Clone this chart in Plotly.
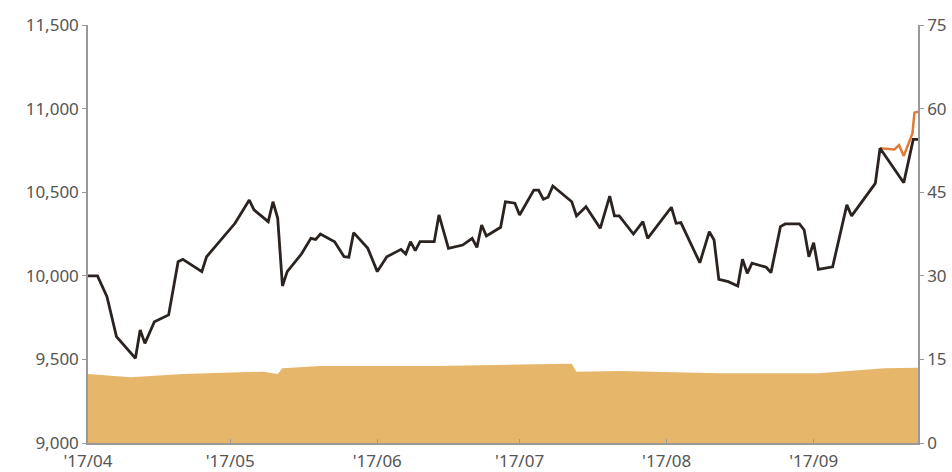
import plotly.graph_objects as go

# Index line (left axis)
line_dates = [
    "2017-04-01", "2017-04-03", "2017-04-05", "2017-04-07", "2017-04-11", "2017-04-12",
    "2017-04-13", "2017-04-15", "2017-04-18", "2017-04-20", "2017-04-21", "2017-04-25",
    "2017-04-26", "2017-05-02", "2017-05-05", "2017-05-06", "2017-05-09", "2017-05-10",
    "2017-05-11", "2017-05-12", "2017-05-13", "2017-05-16", "2017-05-18", "2017-05-19",
    "2017-05-20", "2017-05-23", "2017-05-25", "2017-05-26", "2017-05-27", "2017-05-30",
    "2017-06-01", "2017-06-03", "2017-06-06", "2017-06-07", "2017-06-08", "2017-06-09",
    "2017-06-10", "2017-06-13", "2017-06-14", "2017-06-16", "2017-06-19", "2017-06-21",
    "2017-06-22", "2017-06-23", "2017-06-24", "2017-06-27", "2017-06-28", "2017-06-30",
    "2017-07-01", "2017-07-04", "2017-07-05", "2017-07-06", "2017-07-07", "2017-07-08",
    "2017-07-12", "2017-07-13", "2017-07-15", "2017-07-18", "2017-07-20", "2017-07-21",
    "2017-07-22", "2017-07-25", "2017-07-27", "2017-07-28", "2017-08-02", "2017-08-03",
    "2017-08-04", "2017-08-08", "2017-08-10", "2017-08-11", "2017-08-12", "2017-08-14",
    "2017-08-16", "2017-08-17", "2017-08-18", "2017-08-19", "2017-08-22", "2017-08-23",
    "2017-08-25", "2017-08-26", "2017-08-29", "2017-08-30", "2017-08-31", "2017-09-01",
    "2017-09-02", "2017-09-05", "2017-09-08", "2017-09-09", "2017-09-14", "2017-09-15",
    "2017-09-20", "2017-09-22", "2017-09-23",
]
line_values = [
    10000, 10000, 9875, 9636, 9507, 9676,
    9596, 9725, 9766, 10084, 10099, 10025,
    10114, 10314, 10453, 10394, 10324, 10443,
    10344, 9939, 10025, 10130, 10224, 10218,
    10250, 10204, 10114, 10111, 10258, 10164,
    10025, 10114, 10158, 10130, 10204, 10150,
    10204, 10204, 10364, 10164, 10184, 10224,
    10170, 10304, 10238, 10290, 10443, 10434,
    10364, 10513, 10513, 10458, 10470, 10537,
    10443, 10358, 10413, 10284, 10477, 10358,
    10358, 10250, 10324, 10224, 10410, 10314,
    10318, 10078, 10264, 10214, 9979, 9965,
    9939, 10099, 10015, 10075, 10051, 10019,
    10294, 10310, 10310, 10274, 10114, 10198,
    10039, 10054, 10424, 10358, 10553, 10763,
    10557, 10816, 10816,
]

# Orange tail line (left axis)
tail_dates = ["2017-09-15", "2017-09-18", "2017-09-19", "2017-09-20",
              "2017-09-21 20:00", "2017-09-22 06:00", "2017-09-23"]
tail_values = [10763, 10755, 10782, 10717, 10852, 10976, 10982]

# Area series (right axis)
area_dates = ["2017-04-01", "2017-04-10", "2017-04-21", "2017-05-08", "2017-05-11",
              "2017-05-12", "2017-05-20", "2017-06-13", "2017-07-11", "2017-07-12",
              "2017-07-13", "2017-07-22", "2017-08-12", "2017-09-02", "2017-09-16",
              "2017-09-23"]
area_values = [12.4, 11.8, 12.4, 12.8, 12.4,
               13.4, 13.8, 13.8, 14.2, 14.2,
               12.8, 12.9, 12.5, 12.5, 13.4,
               13.5]

left_ticks = [9000, 9500, 10000, 10500, 11000, 11500]
right_ticks = [0, 15, 30, 45, 60, 75]
x_ticks = ["2017-04-01", "2017-05-01", "2017-06-01", "2017-07-01", "2017-08-01", "2017-09-01"]
x_labels = ["'17/04", "'17/05", "'17/06", "'17/07", "'17/08", "'17/09"]

fig = go.Figure()
fig.add_trace(go.Scatter(
    x=area_dates, y=area_values, yaxis="y2", mode="lines",
    line=dict(color="#E6B66B", width=0), fill="tozeroy", fillcolor="#E6B66B",
    hoverinfo="skip", showlegend=False,
))
fig.add_trace(go.Scatter(
    x=tail_dates, y=tail_values, mode="lines",
    line=dict(color="#E07A36", width=2.5), showlegend=False,
))
fig.add_trace(go.Scatter(
    x=line_dates, y=line_values, mode="lines",
    line=dict(color="#2A2320", width=2.8), showlegend=False,
))

tickfont = dict(family="Noto Sans, DejaVu Sans, sans-serif", size=17, color="#555555")

fig.update_layout(
    width=952, height=472,
    margin=dict(l=88, r=34, t=25, b=29),
    paper_bgcolor="white", plot_bgcolor="white",
    xaxis=dict(
        type="date", range=["2017-04-01", "2017-09-23"], automargin=False,
        tickmode="array", tickvals=x_ticks, ticktext=x_labels,
        ticks="inside", ticklen=4, tickcolor="#999999", ticklabelstandoff=2,
        showline=True, linecolor="#999999", linewidth=1.5,
        showgrid=False, zeroline=False, tickfont=tickfont,
    ),
    yaxis=dict(
        range=[9000, 11500], tickmode="array", tickvals=left_ticks, automargin=False,
        tickformat=",d", ticks="outside", ticklen=4, tickcolor="#999999",
        showline=True, linecolor="#999999", linewidth=1.5,
        showgrid=False, zeroline=False, tickfont=tickfont,
    ),
    yaxis2=dict(
        range=[0, 75], tickmode="array", tickvals=right_ticks, automargin=False,
        overlaying="y", side="right", ticks="outside", ticklen=4,
        tickcolor="#999999", showline=True, linecolor="#999999", linewidth=1.5,
        showgrid=False, zeroline=False, tickfont=tickfont,
    ),
)

fig.write_html("out.html")
